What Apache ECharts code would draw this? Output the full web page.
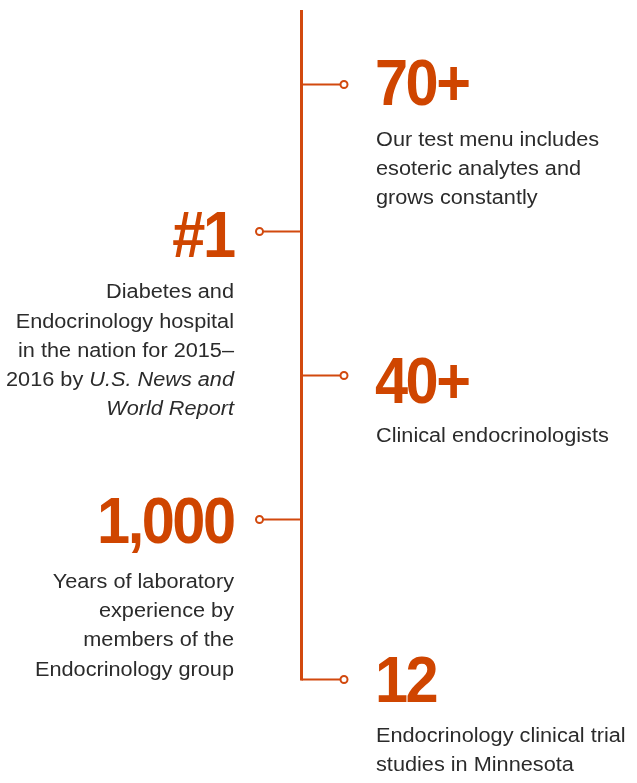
<!DOCTYPE html>
<html>
<head>
<meta charset="utf-8">
<script src="https://cdn.jsdelivr.net/npm/echarts@6/dist/echarts.min.js"></script>
<style>
html,body{margin:0;padding:0;background:#fff;}
#chart{width:637px;height:783px;}
</style>
</head>
<body>
<div id="chart"></div>
<script>
// ---- content ----
const stats = ['70+', '#1', '40+', '1,000', '12'];
const descriptions = [
  ['Our test menu includes', 'esoteric analytes and', 'grows constantly'],
  ['Diabetes and', 'Endocrinology hospital', 'in the nation for 2015\u2013', '2016 by {i|U.S. News and}', '{i|World Report}'],
  ['Clinical endocrinologists'],
  ['Years of laboratory', 'experience by', 'members of the', 'Endocrinology group'],
  ['Endocrinology clinical trial', 'studies in Minnesota']
];
const sides = ['right', 'left', 'right', 'left', 'right'];

// ---- layout (pixel-space axes) ----
const layout = {
  trunkX: 301.5,
  trunkTop: 10,
  nodeY: [84.5, 231.5, 375.5, 519.5, 679.5],
  circleX: { right: 344, left: 259.5 },
  textX: { right: 376, left: 234 },
  numX: { right: 375, left: 236 },
  numBase: [105.5, 257, 403, 543.5, 702],
  descBase: [146, 298.5, 442, 588, 742],
  lineH: 29.2
};
const ORANGE = '#CF4500';
const LINE = '#D2490E';
const TEXT = '#2b2b2b';
const NUM_SIZE = 64, NUM_SCALE = 0.93, TRACK = -2.5;
const DESC_SIZE = 20, DESC_SCALE = 1.085;
const FAMILY = '"Liberation Sans", Arial, sans-serif';
const NUM_FONT = 'bold ' + NUM_SIZE + 'px ' + FAMILY;
const MID = 0.276; // canvas 'middle' offset above baseline (em) for Liberation Sans

const mctx = document.createElement('canvas').getContext('2d');
mctx.font = NUM_FONT;
function advances(str) {
  return str.split('').map(function (c) { return mctx.measureText(c).width * NUM_SCALE; });
}

const chart = echarts.init(document.getElementById('chart'), null, {renderer: 'canvas'});

function renderItem(params, api) {
  const i = params.dataIndex;
  const side = sides[i];
  const node = api.coord([layout.trunkX, layout.nodeY[i]]);
  const circ = api.coord([layout.circleX[side], layout.nodeY[i]]);
  const tx = api.coord([layout.textX[side], 0])[0];
  const nx = api.coord([layout.numX[side], 0])[0];
  const align = side === 'right' ? 'left' : 'right';
  const dir = side === 'right' ? 1 : -1;
  const children = [];
  children.push({
    type: 'line',
    shape: {x1: node[0], y1: node[1], x2: circ[0] - dir * 3.5, y2: circ[1]},
    style: {stroke: LINE, lineWidth: 2}
  });
  children.push({
    type: 'circle',
    shape: {cx: circ[0], cy: circ[1], r: 3.5},
    style: {fill: '#fff', stroke: LINE, lineWidth: 2}
  });
  // big number, glyph by glyph with tight tracking
  const nb = api.coord([0, layout.numBase[i]])[1];
  const adv = advances(stats[i]);
  const total = adv.reduce(function (a, b) { return a + b; }, 0) + TRACK * (adv.length - 1);
  let cx = side === 'right' ? nx : nx - total;
  stats[i].split('').forEach(function (ch, k) {
    children.push({
      type: 'text',
      x: cx, y: nb - MID * NUM_SIZE,
      scaleX: NUM_SCALE,
      style: {
        text: ch, x: 0, y: 0,
        fill: ORANGE,
        font: NUM_FONT,
        align: 'left', verticalAlign: 'middle'
      }
    });
    cx += adv[k] + TRACK;
  });
  const db = api.coord([0, layout.descBase[i]])[1];
  descriptions[i].forEach(function (line, k) {
    children.push({
      type: 'text',
      x: tx, y: db + k * layout.lineH - MID * DESC_SIZE,
      scaleX: DESC_SCALE,
      style: {
        text: line, x: 0, y: 0,
        fill: TEXT,
        fontSize: DESC_SIZE,
        fontFamily: FAMILY,
        align: align, verticalAlign: 'middle',
        rich: {
          i: {fontStyle: 'italic', fontSize: DESC_SIZE, fontFamily: FAMILY, fill: TEXT, color: TEXT}
        }
      }
    });
  });
  return {type: 'group', children: children};
}

chart.setOption({
  animation: false,
  grid: {left: 0, right: 0, top: 0, bottom: 0},
  xAxis: {type: 'value', min: 0, max: 637, show: false},
  yAxis: {type: 'value', min: 0, max: 783, inverse: true, show: false},
  series: [
    {
      type: 'line',
      data: [[layout.trunkX, layout.trunkTop], [layout.trunkX, layout.nodeY[4] + 1]],
      symbol: 'none',
      lineStyle: {color: LINE, width: 3},
      silent: true
    },
    {
      type: 'custom',
      coordinateSystem: 'cartesian2d',
      clip: false,
      data: stats.map(function (s, i) { return [layout.trunkX, layout.nodeY[i]]; }),
      renderItem: renderItem,
      silent: true
    }
  ]
});
</script>
</body>
</html>
